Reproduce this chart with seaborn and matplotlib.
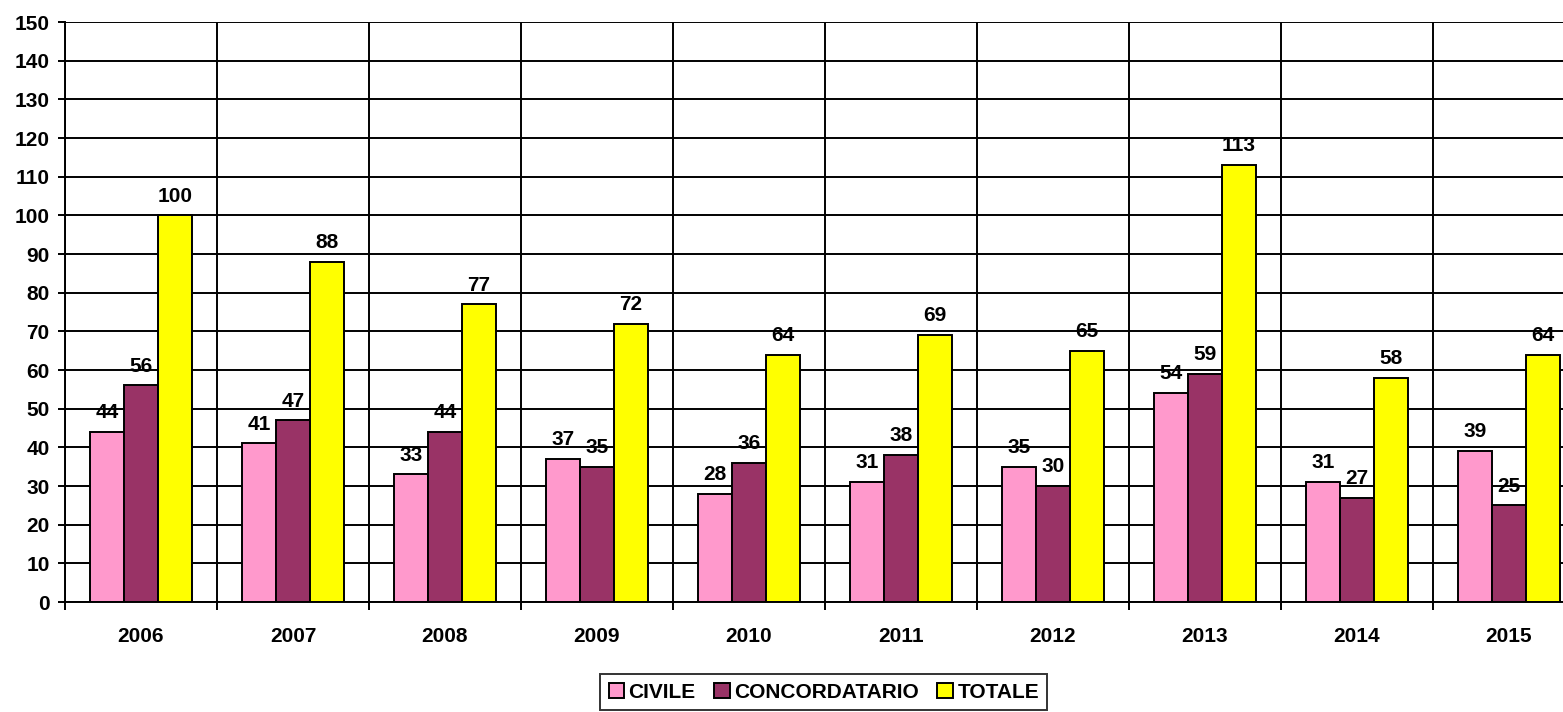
import numpy as np
import pandas as pd
import matplotlib
matplotlib.use('Agg')
import matplotlib.pyplot as plt
import seaborn as sns
from matplotlib.ticker import MultipleLocator, FixedLocator

# Data
years = ['2006', '2007', '2008', '2009', '2010', '2011', '2012', '2013', '2014', '2015']
civile = [44, 41, 33, 37, 28, 31, 35, 54, 31, 39]
concordatario = [56, 47, 44, 35, 36, 38, 30, 59, 27, 25]
totale = [100, 88, 77, 72, 64, 69, 65, 113, 58, 64]
series_names = ['CIVILE', 'CONCORDATARIO', 'TOTALE']
colors = {'CIVILE': '#FF99CC', 'CONCORDATARIO': '#993366', 'TOTALE': '#FFFF00'}

df = pd.DataFrame({'anno': years, 'CIVILE': civile,
                   'CONCORDATARIO': concordatario, 'TOTALE': totale})
long_df = df.melt(id_vars='anno', var_name='serie', value_name='valore')

sns.set_style('white')
plt.rcParams['font.family'] = ['Liberation Sans', 'DejaVu Sans']
plt.rcParams['font.weight'] = 'bold'
plt.rcParams['text.color'] = 'black'
plt.rcParams['xtick.color'] = 'black'
plt.rcParams['ytick.color'] = 'black'
plt.rcParams['axes.labelcolor'] = 'black'

fig = plt.figure(figsize=(15.63, 7.12), dpi=100)
ax = fig.add_axes([65 / 1563, 110 / 712, 1520 / 1563, 580 / 712])

sns.barplot(data=long_df, x='anno', y='valore', hue='serie', hue_order=series_names,
            palette=colors, width=0.67, gap=0, edgecolor='black', linewidth=1.4,
            saturation=1, ax=ax)

for cont in ax.containers:
    ax.bar_label(cont, padding=7, fontsize=15, fontweight='bold', color='black')

ax.set_xlim(-0.5, 9.5)
ax.set_ylim(0, 150)
ax.yaxis.set_major_locator(MultipleLocator(10))
ax.xaxis.set_minor_locator(FixedLocator(np.arange(-0.5, 10, 1)))

ax.set_xlabel('')
ax.set_ylabel('')

# gridlines
ax.set_axisbelow(True)
ax.yaxis.grid(True, color='black', linewidth=1.4)
ax.xaxis.grid(True, which='minor', color='black', linewidth=1.4)
ax.xaxis.grid(False, which='major')
ax.get_ygridlines()[-1].set_visible(False)
ax.get_ygridlines()[0].set_visible(False)

for s in ['top', 'right']:
    ax.spines[s].set_visible(False)
for s in ['left', 'bottom']:
    ax.spines[s].set_color('black')
    ax.spines[s].set_linewidth(1.4)

ax.tick_params(axis='y', which='major', left=True, length=5, width=1.4, color='black',
               pad=6, labelsize=15)
ax.tick_params(axis='x', which='major', bottom=False, length=0, pad=18, labelsize=15)
ax.tick_params(axis='x', which='minor', bottom=True, length=6, width=1.4, color='black')
for lbl in ax.get_xticklabels() + ax.get_yticklabels():
    lbl.set_fontweight('bold')

handles, labels = ax.get_legend_handles_labels()
if ax.get_legend() is not None:
    ax.get_legend().remove()
leg = fig.legend(handles, labels, loc='upper center', bbox_to_anchor=(0.527, 0.053),
                 ncol=3, frameon=True, fancybox=False, edgecolor='black',
                 handlelength=0.75, handleheight=0.75, handletextpad=0.2,
                 columnspacing=0.9, borderpad=0.4, borderaxespad=0,
                 prop={'size': 15, 'weight': 'bold'})
leg.get_frame().set_linewidth(1.4)

fig.savefig('out.png', dpi=100)
